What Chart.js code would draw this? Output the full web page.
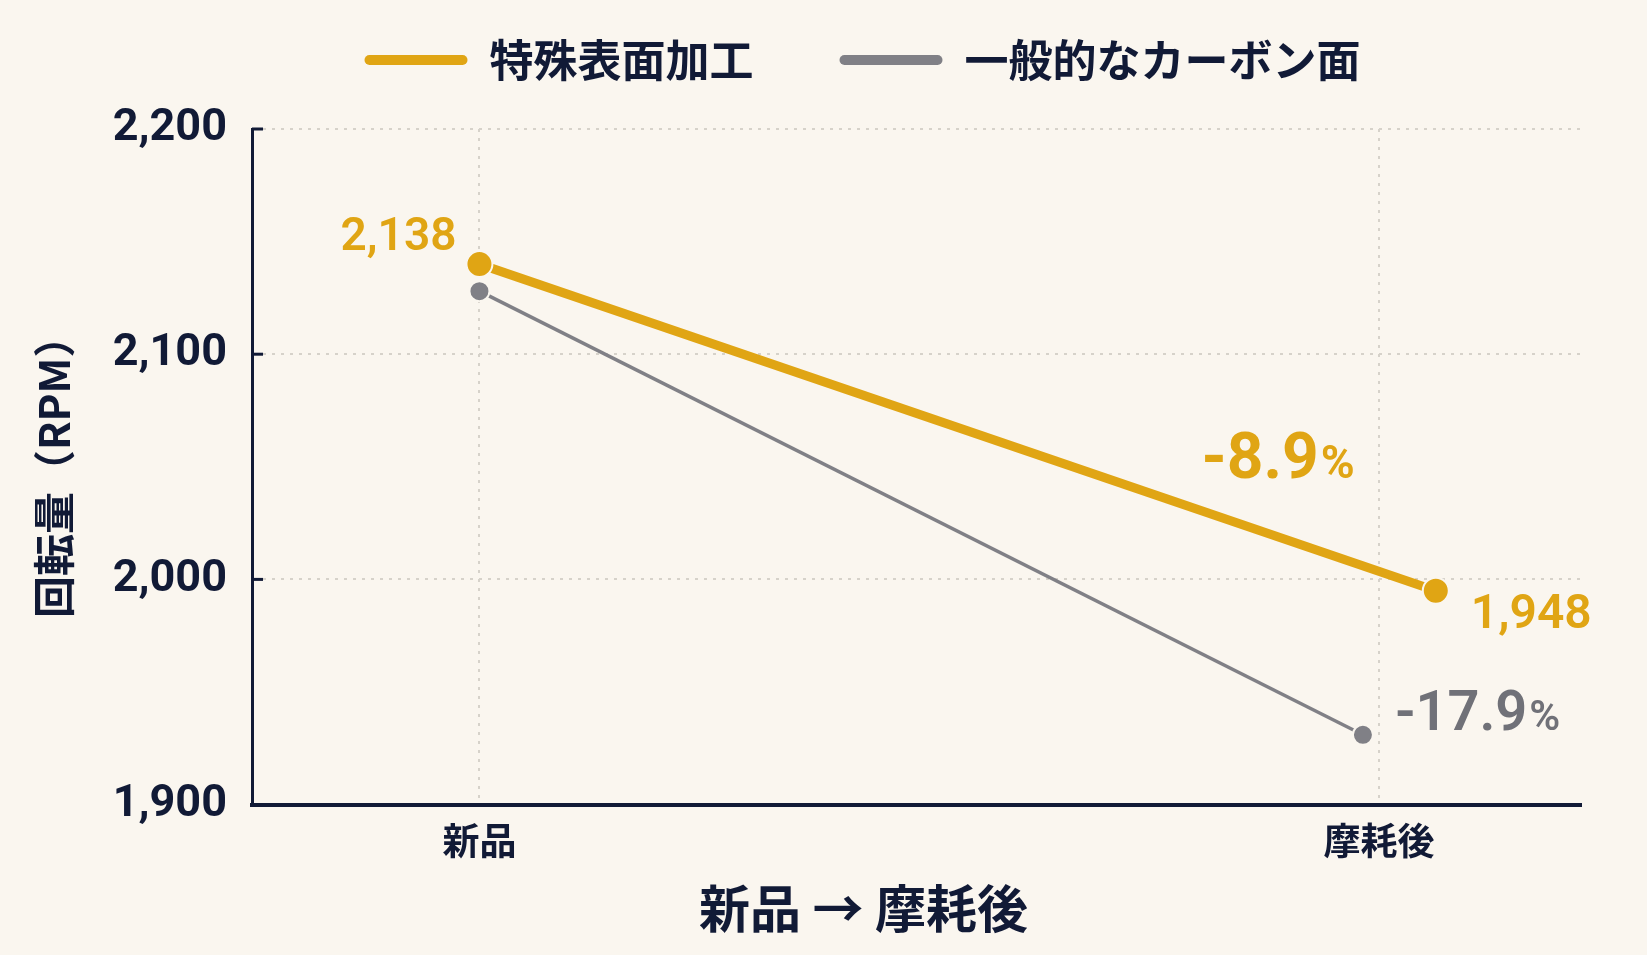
<!DOCTYPE html>
<html lang="ja">
<head>
<meta charset="utf-8">
<title>回転量 新品 → 摩耗後</title>
<script src="https://cdn.jsdelivr.net/npm/chart.js@4.4.1/dist/chart.umd.min.js"></script>
<style>
    html, body { margin: 0; padding: 0; background: #faf6ef; }
    #wrap { width: 1647px; height: 955px; }
</style>
</head>
<body>
<div id="wrap"><canvas id="myChart" width="1647" height="955"></canvas></div>
<script>
// data
var stages = ['新品', '摩耗後'];
var seriesNames = ['特殊表面加工', '一般的なカーボン面'];
var specialRpm = [2140, 1995];
var carbonRpm = [2128, 1931];
var specialStage = [0, 1.063];   // where the points sit along the stage axis
var carbonStage = [0, 0.982];
var specialLabels = [2138, 1948];
var changePct = [-8.9, -17.9];
var yTicks = [1900, 2000, 2100, 2200];

var NAVY = '#111a36';
var GOLD = '#e0a514';
var GREY = '#808086';
var BG = '#faf6ef';
var LATIN = "'Roboto', 'Noto Sans CJK JP', sans-serif";
var CJK = "'Noto Sans CJK JP', 'Roboto', sans-serif";

function pairs(xs, ys) {
    return ys.map(function (v, i) { return { x: xs[i], y: v }; });
}

var background = {
    id: 'background',
    beforeDraw: function (chart) {
        var c = chart.ctx;
        c.save();
        c.fillStyle = BG;
        c.fillRect(0, 0, chart.width, chart.height);
        c.restore();
    }
};

// extra room under the legend, and pull it a bit left like the original
var legendGap = {
    id: 'legendGap',
    beforeLayout: function (chart) {
        var lg = chart.legend;
        if (lg && !lg._gapWrapped) {
            var fit = lg.fit;
            lg.fit = function () {
                fit.call(this);
                this.height += 37;
            };
            lg._gapWrapped = true;
        }
    },
    afterLayout: function (chart) {
        var lg = chart.legend;
        if (lg) {
            lg.left -= 54;
            lg.right -= 54;
        }
    }
};

// short inward ticks on the y axis + the x axis title
var axisExtras = {
    id: 'axisExtras',
    afterDraw: function (chart) {
        var c = chart.ctx, y = chart.scales.y, a = chart.chartArea;
        c.save();
        c.strokeStyle = NAVY;
        c.lineWidth = 3;
        y.ticks.forEach(function (t) {
            var py = y.getPixelForValue(t.value);
            c.beginPath();
            c.moveTo(a.left, py);
            c.lineTo(a.left + 11, py);
            c.stroke();
        });
        c.fillStyle = NAVY;
        c.font = 'bold 51px ' + CJK;
        c.textAlign = 'center';
        c.textBaseline = 'middle';
        c.fillText(stages[0] + ' → ' + stages[1], (a.left + a.right) / 2 - 53, a.bottom + 104);
        c.restore();
    }
};

function pctText(c, str, x, y, big, small, color, weight) {
    c.fillStyle = color;
    c.textAlign = 'right';
    c.textBaseline = 'alphabetic';
    c.font = weight + ' ' + small + 'px ' + LATIN;
    var w = c.measureText('%').width;
    c.fillText('%', x, y);
    c.font = weight + ' ' + big + 'px ' + LATIN;
    c.fillText(str, x - w - 2, y);
}

var valueLabels = {
    id: 'valueLabels',
    afterDatasetsDraw: function (chart) {
        var c = chart.ctx;
        var sp = chart.getDatasetMeta(0).data;
        var cb = chart.getDatasetMeta(1).data;
        c.save();
        c.fillStyle = GOLD;
        c.textBaseline = 'middle';
        c.font = '600 46px ' + LATIN;
        c.textAlign = 'right';
        c.fillText(specialLabels[0].toLocaleString('en-US'), sp[0].x - 23, sp[0].y - 26);
        c.font = '600 48px ' + LATIN;
        c.textAlign = 'left';
        c.fillText(specialLabels[1].toLocaleString('en-US'), sp[1].x + 35, sp[1].y + 25);

        pctText(c, changePct[0].toFixed(1), sp[1].x - 81, sp[1].y - 113, 64, 46, GOLD, 'bold');
        c.font = '600 56px ' + LATIN;
        var w = c.measureText(changePct[1].toFixed(1)).width;
        c.font = '600 42px ' + LATIN;
        var wp = c.measureText('%').width;
        pctText(c, changePct[1].toFixed(1), cb[1].x + 32 + w + 2 + wp, cb[1].y - 5, 56, 42, '#707178', '600');
        c.restore();
    }
};

var ctx = document.getElementById('myChart');
var myChart = new Chart(ctx, {
    type: 'line',
    data: {
        datasets: [{
            label: seriesNames[0],
            data: pairs(specialStage, specialRpm),
            borderColor: GOLD,
            backgroundColor: GOLD,
            borderWidth: 9,
            pointRadius: 13,
            pointHoverRadius: 13,
            pointBackgroundColor: GOLD,
            pointBorderColor: BG,
            pointBorderWidth: 2
        }, {
            label: seriesNames[1],
            data: pairs(carbonStage, carbonRpm),
            borderColor: GREY,
            backgroundColor: GREY,
            borderWidth: 3.5,
            pointRadius: 10,
            pointHoverRadius: 10,
            pointBackgroundColor: GREY,
            pointBorderColor: BG,
            pointBorderWidth: 2
        }]
    },
    options: {
        responsive: false,
        animation: false,
        devicePixelRatio: 1,
        layout: { padding: { top: -48, left: 0, right: 66, bottom: 78 } },
        plugins: {
            tooltip: { enabled: false },
            legend: {
                position: 'top',
                fullSize: false,
                labels: {
                    color: NAVY,
                    font: { family: CJK, size: 44, weight: 'bold' },
                    boxWidth: 103,
                    boxHeight: 10,
                    useBorderRadius: true,
                    borderRadius: 5,
                    padding: 86,
                    generateLabels: function (chart) {
                        return chart.data.datasets.map(function (ds, i) {
                            return {
                                text: ds.label,
                                fillStyle: ds.borderColor,
                                strokeStyle: ds.borderColor,
                                lineWidth: 0,
                                borderRadius: 5,
                                fontColor: NAVY,
                                datasetIndex: i
                            };
                        });
                    }
                }
            }
        },
        scales: {
            x: {
                type: 'linear',
                min: -0.2528,
                max: 1.2244,
                afterBuildTicks: function (scale) {
                    scale.ticks = stages.map(function (s, i) { return { value: i }; });
                },
                ticks: {
                    color: NAVY,
                    padding: 14,
                    font: { family: CJK, size: 37, weight: 'bold' },
                    callback: function (v) { return stages[v]; }
                },
                grid: {
                    color: '#d6d2ca',
                    lineWidth: 2,
                    drawTicks: false
                },
                border: { color: NAVY, width: 4, dash: [3, 6] }
            },
            y: {
                min: 1900,
                max: 2200,
                afterBuildTicks: function (scale) {
                    scale.ticks = yTicks.map(function (v) { return { value: v }; });
                },
                afterFit: function (scale) { scale.width = 252; },
                ticks: {
                    color: NAVY,
                    padding: 25,
                    font: { family: LATIN, size: 45, weight: 'bold' },
                    callback: function (v) { return v.toLocaleString('en-US'); }
                },
                grid: {
                    color: '#d6d2ca',
                    lineWidth: 2,
                    drawTicks: false
                },
                border: { color: NAVY, width: 3, dash: [3, 6] },
                title: {
                    display: true,
                    text: '回転量（RPM）',
                    color: NAVY,
                    font: { family: CJK, size: 42, weight: 'bold' },
                    padding: { top: 29, bottom: 0 }
                }
            }
        }
    },
    plugins: [background, legendGap, axisExtras, valueLabels]
});
</script>
</body>
</html>
